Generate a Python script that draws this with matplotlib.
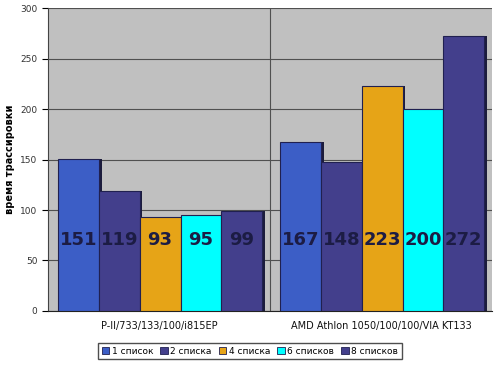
import numpy as np
import matplotlib.pyplot as plt
from matplotlib.patches import Patch

categories = ['P-II/733/133/100/i815EP', 'AMD Athlon 1050/100/100/VIA KT133']
series_names = ['1 список', '2 списка', '4 списка', '6 списков', '8 списков']
values_1 = [151, 167]
values_2 = [119, 148]
values_4 = [93, 223]
values_6 = [95, 200]
values_8 = [99, 272]
yticks = [0, 50, 100, 150, 200, 250, 300]

colors = ['#3c5ec6', '#433f8c', '#e6a417', '#00ffff', '#433f8c']
series = [values_1, values_2, values_4, values_6, values_8]

fig = plt.figure(figsize=(5, 3.68), dpi=100)
ax = fig.add_axes([0.096, 0.155, 0.888, 0.823])
ax.set_facecolor('#c0c0c0')

width = 0.184
x = np.arange(len(categories))
for i, (vals, c) in enumerate(zip(series, colors)):
    pos = x - 0.455 + width * (i + 0.5)
    # shadow to fake the 3d depth
    ax.bar(pos + 0.012, vals, width, bottom=0, color='#1c1c3c', zorder=2)
    bars = ax.bar(pos, vals, width, color=c, edgecolor='#202050', linewidth=0.8, zorder=3)
    for b, v in zip(bars, vals):
        ax.text(b.get_x() + b.get_width() / 2, 70, str(v), ha='center', va='center',
                fontsize=13, fontweight='bold', color='#1c1c44', zorder=4)

ax.set_xlim(-0.5, 1.5)
ax.set_ylim(0, 300)
ax.set_yticks(yticks)
ax.set_yticklabels([str(t) for t in yticks], fontsize=6.5, color='#333333')
ax.set_xticks(x)
ax.set_xticklabels(categories, fontsize=7, color='#111111')
ax.tick_params(axis='x', length=0, pad=7)
ax.tick_params(axis='y', length=4, direction='out')
ax.grid(axis='y', color='#505050', linewidth=0.8, zorder=1)
ax.axvline(0.5, color='#505050', linewidth=0.8, zorder=1)
ax.set_ylabel('время трассировки', fontsize=7, fontweight='bold')

for s in ['top', 'right']:
    ax.spines[s].set_visible(False)
ax.spines['left'].set_color('#444444')
ax.spines['bottom'].set_color('#222222')

handles = [Patch(facecolor=c, edgecolor='#202050', linewidth=0.6) for c in colors]
fig.legend(handles, series_names, loc='center', bbox_to_anchor=(0.5, 0.046), ncol=5,
           fontsize=6.5, frameon=True, fancybox=False, edgecolor='#222222',
           handlelength=0.8, handleheight=0.8, handletextpad=0.3, columnspacing=0.8,
           borderpad=0.4)

fig.savefig('out.png', dpi=100)
